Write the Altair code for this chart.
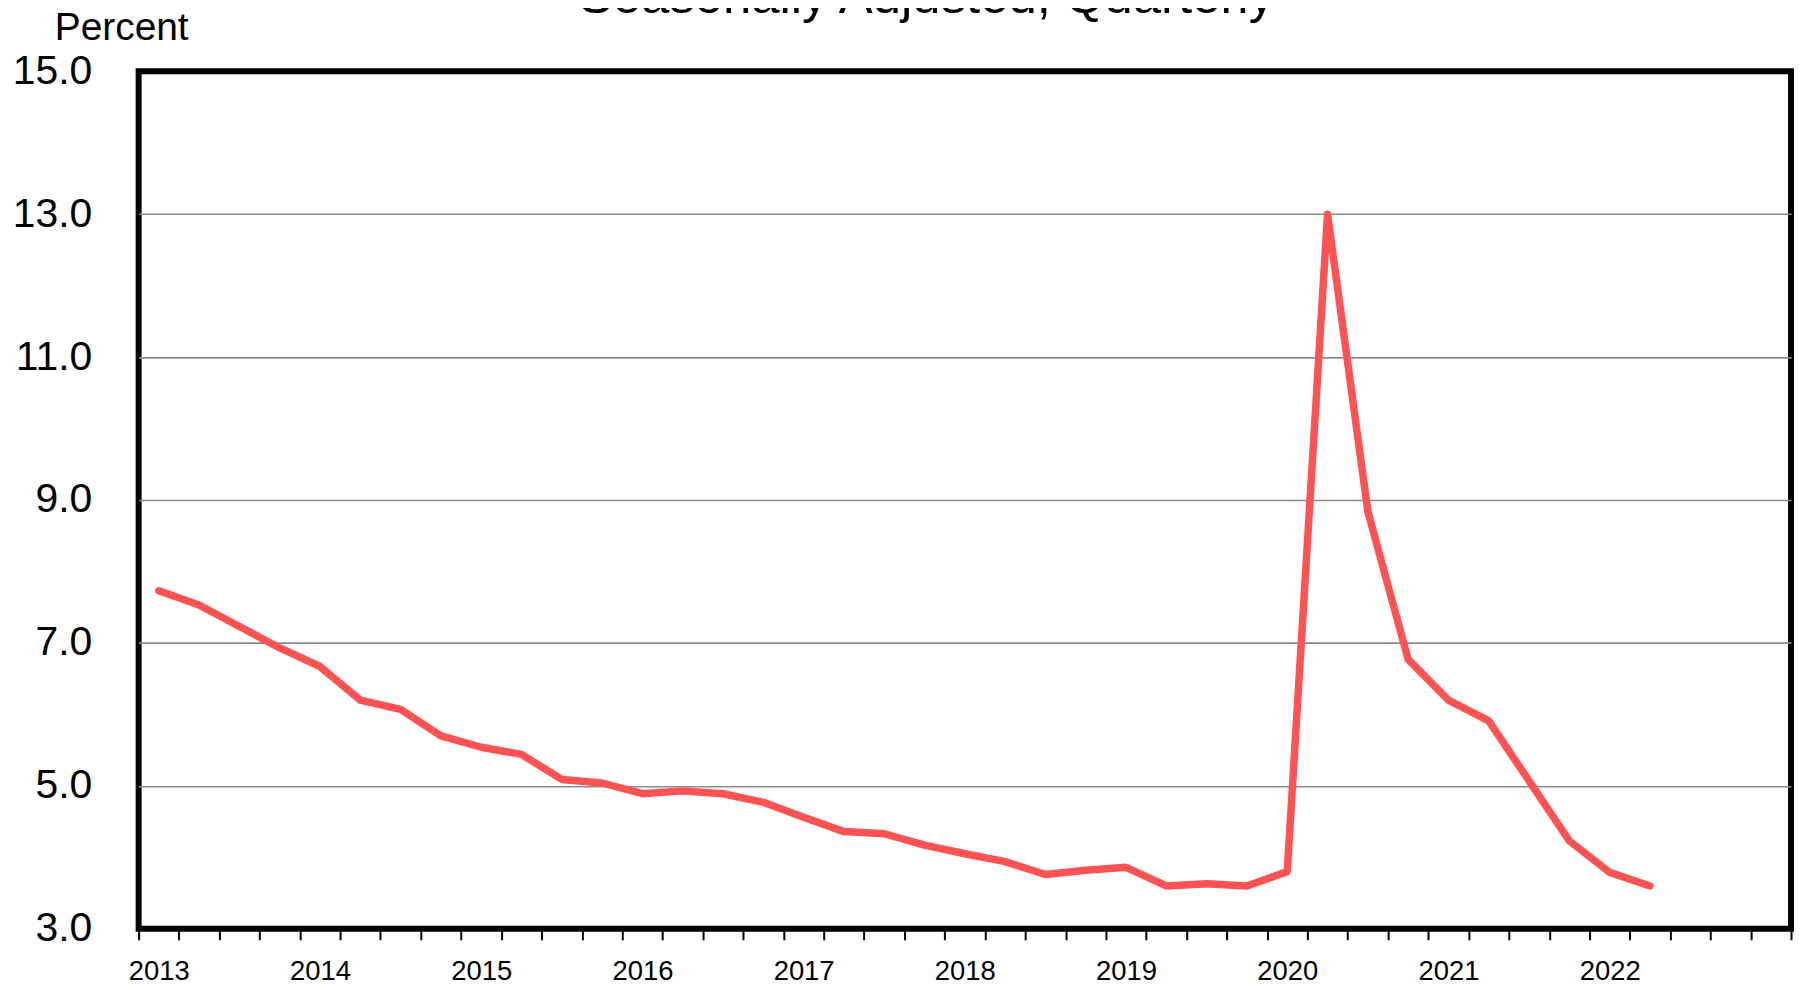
import json
import altair as alt
import pandas as pd

# ---- data ----
QUARTERS = [f"{y}Q{q}" for y in range(2013, 2023) for q in range(1, 5)][:38]
RATE = [7.73, 7.53, 7.23, 6.93, 6.67, 6.20, 6.07, 5.70, 5.54, 5.44,
        5.09, 5.04, 4.89, 4.93, 4.89, 4.77, 4.56, 4.36, 4.33, 4.17,
        4.05, 3.94, 3.76, 3.82, 3.86, 3.60, 3.63, 3.60, 3.80, 13.0,
        8.84, 6.77, 6.20, 5.91, 5.07, 4.23, 3.79, 3.60]
YEAR_LABELS = ["2013", "2014", "2015", "2016", "2017",
               "2018", "2019", "2020", "2021", "2022"]
Y_TICKS = [3, 5, 7, 9, 11, 13, 15]
N_SLOTS = 41  # 2013Q1 .. 2023Q1 on the category axis
TITLE = "Seasonally Adjusted, Quarterly"
Y_TITLE = "Percent"

FONT = "Liberation Sans"
W, H = 1657, 860

df = pd.DataFrame({
    "quarter": QUARTERS,
    "pos": [i + 0.5 for i in range(len(QUARTERS))],
    "rate": RATE,
})

label_expr = (
    "datum.value % 4 == 0 && datum.value <= 36 ? "
    + json.dumps(YEAR_LABELS) + "[datum.value / 4] : ''"
)

line = alt.Chart(df).mark_line(
    color="#FF5353", strokeWidth=7.5, strokeCap="round", strokeJoin="round"
).encode(
    x=alt.X(
        "pos:Q",
        scale=alt.Scale(domain=[0, N_SLOTS], nice=False, zero=False),
        axis=alt.Axis(
            values=list(range(N_SLOTS + 1)),
            labelExpr=label_expr,
            domain=False,
            grid=False,
            ticks=True,
            tickColor="black",
            tickWidth=2,
            tickSize=11,
            labelFont=FONT,
            labelFontSize=27.5,
            labelColor="black",
            labelBaseline="alphabetic",
            labelPadding=40,
            labelOffset=W / N_SLOTS / 2,
            labelOverlap=False,
            labelBound=False,
            labelFlush=False,
            title=None,
        ),
    ),
    y=alt.Y(
        "rate:Q",
        scale=alt.Scale(domain=[3, 15], nice=False, zero=False),
        axis=alt.Axis(
            values=Y_TICKS,
            format=".1f",
            domain=False,
            ticks=False,
            grid=True,
            gridColor={
                "condition": {"test": "datum.value == 3 || datum.value == 15",
                              "value": "transparent"},
                "value": "#8c8c8c",
            },
            gridWidth=1.6,
            labelFont=FONT,
            labelFontSize=41,
            labelColor="black",
            labelPadding=47,
            labelOverlap=False,
            labelBound=False,
            labelFlush=False,
            title=Y_TITLE,
            titleAngle=0,
            titleX=-17.5,
            titleY=-32,
            titleAlign="center",
            titleBaseline="alphabetic",
            titleFont=FONT,
            titleFontSize=39,
            titleFontWeight="normal",
            titleColor="black",
        ),
    ),
)

title = alt.Chart(pd.DataFrame({"t": [TITLE]})).mark_text(
    font=FONT, fontSize=51, color="black", align="center",
    baseline="alphabetic", clip=False
).encode(
    text="t:N",
    x=alt.value(790),
    y=alt.value(-58),
)

chart = alt.layer(line, title).properties(
    width=W,
    height=H,
    padding={"left": 131, "top": 62, "right": 8, "bottom": 60},
    autosize=alt.AutoSizeParams(type="none"),
    background="white",
).configure_view(
    stroke="black", strokeWidth=6
)

chart.save("out.html", embed_options={"renderer": "svg", "actions": False})
